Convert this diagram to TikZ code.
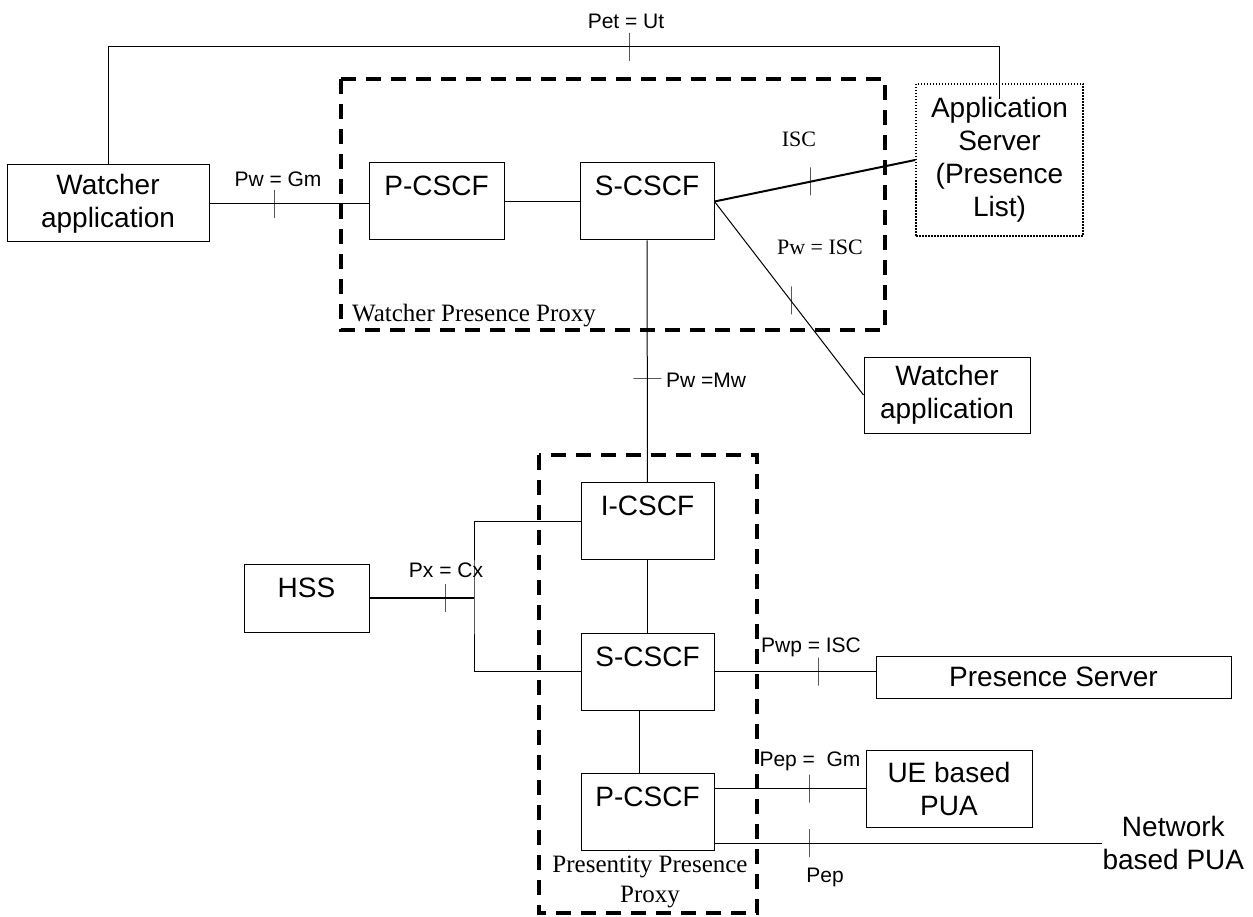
\documentclass[tikz,border=0pt]{standalone}
\usepackage{fontspec}
\setmainfont{Liberation Serif}
\setsansfont{Liberation Sans}
\tikzset{box/.style={draw, line width=1pt, align=center, inner sep=0pt,
   font=\sffamily\fontsize{28}{33}\selectfont},
 topbox/.style={box, text height=33pt, text depth=#1},
 topbox/.default=44pt,
 dotbox/.style={box, line width=1.5pt, dash pattern=on 1.5pt off 1.5pt},
 proxybox/.style={draw, line width=3.5pt, dash pattern=on 15pt off 10pt},
 vtick/.style={draw, line width=1pt, inner sep=0pt, minimum width=0pt, minimum height=28pt},
 htick/.style={draw, line width=1pt, inner sep=0pt, minimum height=0pt, minimum width=28pt},
 lbl/.style={inner sep=0pt, font=\sffamily\fontsize{21}{25}\selectfont},
 slbl/.style={inner sep=0pt, font=\rmfamily\fontsize{22}{26}\selectfont},
 proxylbl/.style={inner sep=0pt, align=center, font=\rmfamily\fontsize{25}{30}\selectfont},
 link/.style={line width=1pt},
 thicklink/.style={line width=2pt},
 }

\begin{document}
\begin{tikzpicture}[x=1pt, y=-1pt]
        \useasboundingbox (0,0) rectangle (1253,917);
        % the two proxies
        \draw[proxybox] (341,79) rectangle (885,330);
        \draw[proxybox] (539,455) rectangle (757,913);
        \node[proxylbl, anchor=base west] (wpp) at (352,322) {Watcher Presence Proxy};
        \node[proxylbl] (ppp) at (650,882) {Presentity Presence\\Proxy};

        % boxes
        \node[box, minimum width=202pt, minimum height=77pt] (wal) at (108,203.5) {Watcher\\application};
        \node[topbox, minimum width=135pt, minimum height=77pt] (pc1) at (436.5,201.5) {P-CSCF};
        \node[topbox, minimum width=134pt, minimum height=77pt] (sc1) at (647,201.5) {S-CSCF};
        \node[dotbox, minimum width=167pt, minimum height=152pt] (as) at (999.5,160) {Application\\Server\\(Presence\\List)};
        \node[box, minimum width=166pt, minimum height=76pt] (war) at (947,395) {Watcher\\application};
        \node[topbox, minimum width=133pt, minimum height=76pt] (ic) at (647.5,521) {I-CSCF};
        \node[topbox=35pt, minimum width=125pt, minimum height=68pt] (hss) at (306.5,598) {HSS};
        \node[topbox, minimum width=133pt, minimum height=77pt] (sc2) at (647.5,671.5) {S-CSCF};
        \node[topbox, minimum width=133pt, minimum height=77pt] (pc2) at (647.5,811.5) {P-CSCF};
        \node[box, minimum width=355pt, minimum height=42pt] (ps) at (1053.5,677) {Presence Server};
        \node[box, minimum width=166pt, minimum height=77pt] (ue) at (949,788.5) {UE based\\PUA};
        \node[box, draw=none, anchor=west] (net) at (1102,843) {Network\\based PUA};

        % watcher side
        \coordinate (topR) at (999.5,47);
        \draw[link] (wal.north) |- (topR) -- ([yshift=-16pt]as.north);
        \node[vtick] (t1) at (629,47) {};
        \node[lbl, anchor=base] (l1) at (626,29) {Pet = Ut};

        \draw[link] (wal.east) -- (wal.east -| pc1.west);
        \node[vtick] (t2) at (274,204) {};
        \node[lbl, anchor=base] (l2) at (278,187) {Pw = Gm};

        \draw[link] (pc1) -- (sc1);
        \draw[thicklink] (sc1.east) -- (as.west);
        \node[vtick] (t3) at (810,181.5) {};
        \node[slbl, anchor=base] (l3) at (799,147) {ISC};

        \draw[link] (sc1.east) -- (war.west);
        \node[vtick] (t4) at (791,300.5) {};
        \node[slbl, anchor=base] (l4) at (820,255) {Pw = ISC};

        \draw[link] (sc1) -- (ic);
        \node[htick] (t5) at (647.3,378) {};
        \node[lbl, anchor=base west] (l5) at (666,387) {Pw =Mw};

        % presentity side
        \coordinate (px) at (474,598);
        \draw[link] (ic.west) -| (px) |- (sc2.west);
        \draw[thicklink] (hss.east) -- (px);
        \node[vtick] (t6) at (445,598) {};
        \node[lbl, anchor=base] (l6) at (446,577) {Px = Cx};

        \draw[link] (ic) -- (sc2);
        \draw[link] ([xshift=-8pt]sc2.south) -- ([xshift=-8pt]pc2.north);

        \draw[link] (sc2.east) -- (sc2.east -| ps.west);
        \node[vtick] (t7) at (818,671.5) {};
        \node[lbl, anchor=base] (l7) at (811,652) {Pwp = ISC};

        \draw[link] (ue.west -| pc2.east) -- (ue.west);
        \node[vtick] (t8) at (809,788.5) {};
        \node[lbl, anchor=base] (l8) at (810,766) {Pep =\ \ Gm};

        \draw[link] (pc2.east |- net.west) -- (net.west);
        \node[vtick] (t9) at (809,843) {};
        \node[lbl, anchor=base] (l9) at (825,882) {Pep};
    \end{tikzpicture}
\end{document}
